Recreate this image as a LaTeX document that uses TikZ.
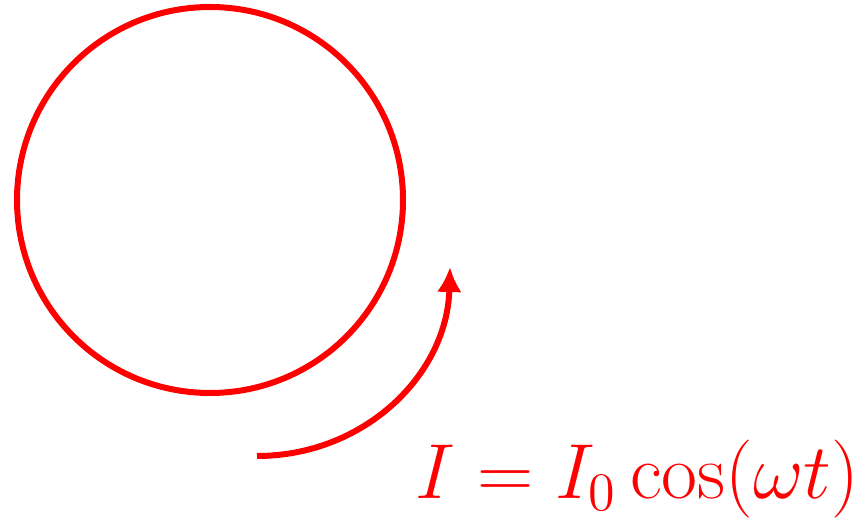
\documentclass[tikz,border=0pt]{standalone}
\usetikzlibrary{arrows.meta}
\definecolor{loopred}{RGB}{255,0,0}
\begin{document}
\begin{tikzpicture}[x=0.01cm,y=-0.01cm,>={Latex[length=0.25cm,width=0.25cm]}]
    \useasboundingbox (0,0) rectangle (867,519);
    % current loop
    \draw[loopred,line width=0.06cm] (210,200) circle (193);
    % direction of the current
    \coordinate (start) at (257,456);
    \coordinate (tip) at (450,267);
    \draw[loopred,line width=0.06cm,->] (start) .. controls (364,456) and (447,375) .. (tip);
    \node[loopred,anchor=base west,inner sep=0pt,scale=1.07,transform shape,font=\fontsize{20}{24}\selectfont] (current) at (415,499) {$I = I_0\cos(\omega t)$};
\end{tikzpicture}
\end{document}
